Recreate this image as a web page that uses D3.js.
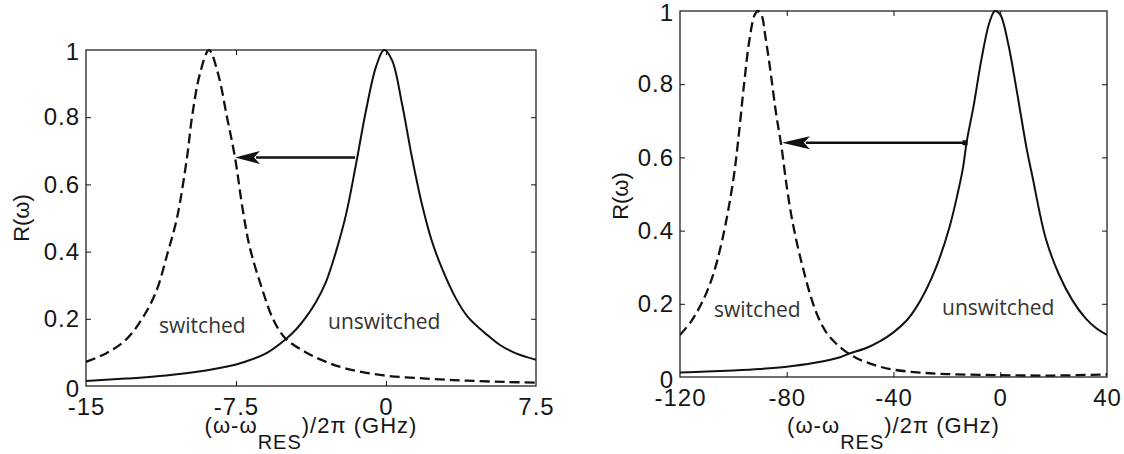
<!DOCTYPE html>
<html><head><meta charset="utf-8">
<script src="https://cdn.jsdelivr.net/npm/d3@7"></script>
<style>body{margin:0;background:#fff} svg{display:block}</style>
</head><body>
<svg id="c" width="1124" height="454"></svg>
<script>
// ---------- data ----------
const yTicks = [0, 0.2, 0.4, 0.6, 0.8, 1];
const yTickLabels = ["0", "0.2", "0.4", "0.6", "0.8", "1"];

// left panel (GHz)
const leftXTicks = [-15, -7.5, 0, 7.5];
const leftXTickLabels = ["-15", "-7.5", "0", "7.5"];
const leftSolidX = [-15, -13, -11, -9, -8, -7, -6, -5, -4.5, -4, -3.5, -3, -2.5, -2, -1.5, -1, -0.5, -0.1, 0.3, 0.8, 1.3, 1.8, 2.3, 2.8, 3.5, 4.1, 5, 5.7, 6.5, 7.5];
const leftSolidR = [0.015, 0.022, 0.031, 0.046, 0.057, 0.073, 0.097, 0.14, 0.168, 0.205, 0.25, 0.31, 0.40, 0.51, 0.66, 0.82, 0.95, 1.0, 0.97, 0.84, 0.68, 0.54, 0.43, 0.35, 0.26, 0.205, 0.155, 0.122, 0.097, 0.078];
const leftDashedX = [-15, -14, -13, -12.2, -11.5, -10.9, -10.45, -9.95, -9.7, -9.3, -8.85, -8.4, -7.95, -7.55, -7.15, -6.8, -6.2, -5.65, -5.05, -4, -3, -2, -0.3, 2, 4, 6, 7.5];
const leftDashedR = [0.072, 0.097, 0.138, 0.2, 0.28, 0.4, 0.5, 0.68, 0.8, 0.93, 1.0, 0.93, 0.8, 0.68, 0.52, 0.41, 0.29, 0.2, 0.143, 0.1, 0.072, 0.052, 0.033, 0.022, 0.016, 0.012, 0.01];
const leftArrow = [[-1.55, 0.68], [-7.55, 0.68]];

// right panel (GHz)
const rightXTicks = [-120, -80, -40, 0, 40];
const rightXTickLabels = ["-120", "-80", "-40", "0", "40"];
const rightSolidX = [-120, -110, -100, -90, -80, -70, -60, -57, -50, -45, -40, -35, -32, -28, -24, -19, -16, -14, -12.5, -10, -7, -4, -2, 0, 3, 6, 10, 12, 17, 22, 27, 32, 36, 40];
const rightSolidR = [0.012, 0.015, 0.018, 0.022, 0.028, 0.038, 0.054, 0.063, 0.08, 0.098, 0.122, 0.155, 0.184, 0.235, 0.3, 0.41, 0.5, 0.57, 0.646, 0.74, 0.87, 0.97, 1.0, 0.99, 0.91, 0.79, 0.62, 0.55, 0.38, 0.28, 0.21, 0.16, 0.133, 0.115];
const rightDashedX = [-120, -116, -112, -108, -104, -100, -98, -96, -94, -92, -90.8, -89.5, -88, -86, -84, -82, -80, -78, -76, -74, -71, -68, -65, -62, -58, -54, -50, -45, -40, -30, -20, 0, 20, 40];
const rightDashedR = [0.115, 0.15, 0.2, 0.27, 0.38, 0.54, 0.66, 0.8, 0.92, 0.99, 1.0, 0.99, 0.93, 0.83, 0.72, 0.63, 0.52, 0.43, 0.36, 0.3, 0.22, 0.16, 0.12, 0.095, 0.07, 0.052, 0.04, 0.028, 0.02, 0.012, 0.008, 0.005, 0.004, 0.007];
const rightArrow = [[-13.2, 0.64], [-81.8, 0.64]];

const labelSwitched = "switched";
const labelUnswitched = "unswitched";

// ---------- layout ----------
const panels = [
  {x0: 86, x1: 536, y0: 50, y1: 386, domain: [-15, 7.5], ticks: leftXTicks, tickLabels: leftXTickLabels,
   solidX: leftSolidX, solidR: leftSolidR, dashX: leftDashedX, dashR: leftDashedR, arrow: leftArrow,
   ylab: [21, 218], sw: [159, 333], usw: [328, 329], headLen: 25, headHalf: 6.5, startMark: false},
  {x0: 680, x1: 1107, y0: 11, y1: 377, domain: [-120, 40], ticks: rightXTicks, tickLabels: rightXTickLabels,
   solidX: rightSolidX, solidR: rightSolidR, dashX: rightDashedX, dashR: rightDashedR, arrow: rightArrow,
   ylab: [620, 196], sw: [714, 317], usw: [942, 315], headLen: 28, headHalf: 6.5, startMark: true}
];

const svg = d3.select("#c");
const ink = "#111";
const tickFont = "Liberation Sans, Arial, Helvetica, sans-serif";

panels.forEach((p, i) => {
  const x = d3.scaleLinear().domain(p.domain).range([p.x0, p.x1]);
  const y = d3.scaleLinear().domain([0, 1]).range([p.y1, p.y0]);
  const g = svg.append("g");

  const clipId = "clip" + i;
  svg.append("clipPath").attr("id", clipId).append("rect")
    .attr("x", p.x0).attr("y", p.y0 - 1).attr("width", p.x1 - p.x0).attr("height", p.y1 - p.y0 + 1);

  // axes (inward ticks on all four sides)
  const fmtX = (d) => p.tickLabels[p.ticks.indexOf(d)];
  const fmtY = (d) => yTickLabels[yTicks.indexOf(d)];
  const bx = g.append("g").attr("transform", `translate(0,${p.y1})`)
    .call(d3.axisBottom(x).tickValues(p.ticks).tickFormat(fmtX).tickSize(-5).tickPadding(12));
  const tx = g.append("g").attr("transform", `translate(0,${p.y0})`)
    .call(d3.axisTop(x).tickValues(p.ticks).tickFormat("").tickSize(-5));
  const ly = g.append("g").attr("transform", `translate(${p.x0},0)`)
    .call(d3.axisLeft(y).tickValues(yTicks).tickFormat(fmtY).tickSize(-5).tickPadding(6));
  const ry = g.append("g").attr("transform", `translate(${p.x1},0)`)
    .call(d3.axisRight(y).tickValues(yTicks).tickFormat("").tickSize(-5));
  [bx, tx, ly, ry].forEach(a => {
    a.select(".domain").remove();
    a.selectAll("line").attr("stroke", ink).attr("stroke-width", 1);
    a.selectAll("text").attr("fill", "#161616").style("font-family", tickFont)
      .style("font-size", "24px").style("letter-spacing", "1px");
  });
  [bx, tx].forEach(a => a.selectAll(".tick line").filter(d => d === p.domain[0] || d === p.domain[1]).remove());
  [ly, ry].forEach(a => a.selectAll(".tick line").filter(d => d === 0 || d === 1).remove());
  ly.selectAll(".tick text").filter(d => d === 0).attr("dy", "0.45em");
  ly.selectAll(".tick text").filter(d => d === 1).attr("dy", "0.38em");

  // frame
  g.append("rect").attr("x", p.x0).attr("y", p.y0).attr("width", p.x1 - p.x0).attr("height", p.y1 - p.y0)
    .attr("fill", "none").attr("stroke", ink).attr("stroke-width", 1.2);

  // curves
  const line = d3.line().x(d => x(d[0])).y(d => y(d[1])).curve(d3.curveCatmullRom.alpha(0.5));
  const solid = p.solidX.map((v, k) => [v, p.solidR[k]]);
  const dashed = p.dashX.map((v, k) => [v, p.dashR[k]]);
  g.append("path").datum(solid).attr("clip-path", `url(#${clipId})`)
    .attr("d", line).attr("fill", "none").attr("stroke", ink).attr("stroke-width", 2);
  g.append("path").datum(dashed).attr("clip-path", `url(#${clipId})`)
    .attr("d", line).attr("fill", "none").attr("stroke", ink).attr("stroke-width", 2.3)
    .attr("stroke-dasharray", "10,5");

  // arrow
  const [a0, a1] = p.arrow;
  const sx = x(a0[0]), tipX = x(a1[0]), ay = y(a1[1]);
  g.append("line").attr("x1", sx).attr("y1", y(a0[1])).attr("x2", tipX + p.headLen - 4).attr("y2", ay)
    .attr("stroke", ink).attr("stroke-width", 2.4);
  g.append("path")
    .attr("d", `M${tipX},${ay}L${tipX + p.headLen},${ay - p.headHalf}L${tipX + p.headLen - 6},${ay}L${tipX + p.headLen},${ay + p.headHalf}Z`)
    .attr("fill", ink);
  if (p.startMark) {
    g.append("rect").attr("x", sx - 2.5).attr("y", ay - 2.5).attr("width", 5).attr("height", 5).attr("fill", ink);
  }

  // x axis label with subscript
  const xl = g.append("text").attr("x", (p.x0 + p.x1) / 2).attr("y", 433)
    .attr("text-anchor", "middle").attr("fill", "#161616")
    .style("font-family", tickFont).style("font-size", "22px").style("letter-spacing", "1px");
  xl.append("tspan").text("(ω-ω");
  xl.append("tspan").attr("dy", 16).style("font-size", "20px").text("RES");
  xl.append("tspan").attr("dy", -16).text(")/2π (GHz)");

  // y axis label
  g.append("text").attr("transform", `translate(${p.ylab[0]},${p.ylab[1]}) rotate(-90)`)
    .attr("text-anchor", "middle").attr("dy", "0.35em").attr("fill", "#161616")
    .style("font-family", tickFont).style("font-size", "22px").text("R(ω)");

  // curve annotations
  const annFont = "'Open Sans', 'Noto Sans', sans-serif";
  g.append("text").attr("x", p.sw[0]).attr("y", p.sw[1]).attr("fill", "#333")
    .style("font-family", annFont).style("font-size", "21px").text(labelSwitched);
  g.append("text").attr("x", p.usw[0]).attr("y", p.usw[1]).attr("fill", "#333")
    .style("font-family", annFont).style("font-size", "21px").text(labelUnswitched);
});
</script>
</body></html>
